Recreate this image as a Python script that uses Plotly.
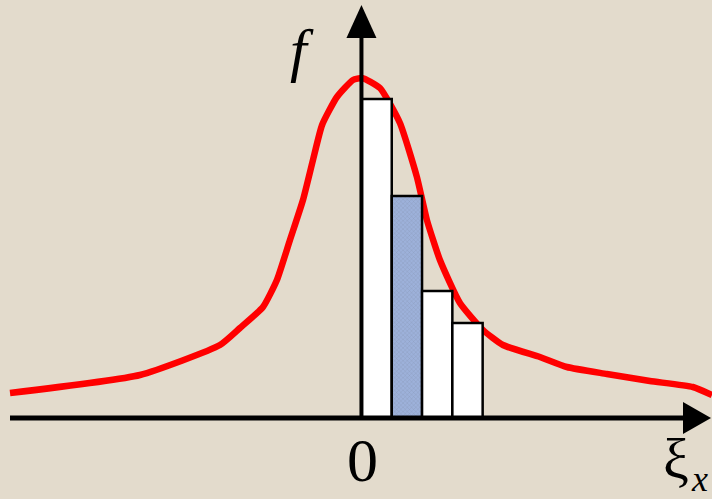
import plotly.graph_objects as go

# Distribution curve f(xi_x), sampled points
curve_x = [-11.60, -7.31, -4.67, -4.01, -3.25, -2.79, -2.36, -1.93, -1.60, -1.30,
           -0.81, -0.28, 0.02, 0.61, 1.27, 1.83, 2.16, 2.59, 3.25, 4.01,
           4.67, 5.89, 6.78, 8.10, 9.52, 10.94, 11.57]
curve_y = [0.25, 0.43, 0.73, 0.90, 1.11, 1.38, 1.78, 2.18, 2.58, 2.93,
           3.21, 3.38, 3.40, 3.30, 2.95, 2.41, 1.98, 1.58, 1.15, 0.88,
           0.73, 0.61, 0.51, 0.44, 0.37, 0.31, 0.23]

# Histogram bins to the right of zero
bin_centers = [0.5, 1.5, 2.5, 3.5]
bin_heights = [3.19, 2.22, 1.27, 0.95]
bin_colors = ["#ffffff", "#9db1da", "#ffffff", "#ffffff"]
bin_patterns = ["", "x", "", ""]

x_range = [-11.93, 11.57]
y_range = [-0.81, 4.18]

bg = "#e3dbcc"

fig = go.Figure()

fig.add_trace(go.Scatter(
    x=curve_x, y=curve_y, mode="lines",
    line=dict(color="#ff0000", width=6.5, shape="spline", smoothing=0.5),
    xaxis="x", yaxis="y", hoverinfo="skip",
))

fig.add_trace(go.Bar(
    x=bin_centers, y=bin_heights, width=1.0,
    marker=dict(
        color=bin_colors,
        line=dict(color="#000000", width=2.5),
        pattern=dict(shape=bin_patterns, fgcolor="#93a7d2", size=3, solidity=0.1),
    ),
    xaxis="x2", yaxis="y2", hoverinfo="skip",
))

# Axes with arrowheads
px_x = (x_range[1] - x_range[0]) / 712.0   # data units per pixel (x)
px_y = (y_range[1] - y_range[0]) / 499.0   # data units per pixel (y)

shapes = [
    dict(type="line", x0=x_range[0] + 10 * px_x, x1=x_range[1] - 20 * px_x, y0=0, y1=0,
         line=dict(color="#000000", width=5), layer="above"),
    dict(type="line", x0=0, x1=0, y0=0, y1=y_range[1] - 30 * px_y,
         line=dict(color="#000000", width=4), layer="above"),
    dict(type="path",
         path=(f"M {x_range[1] - 1 * px_x} 0 "
               f"L {x_range[1] - 29 * px_x} {16 * px_y} "
               f"L {x_range[1] - 29 * px_x} {-16 * px_y} Z"),
         fillcolor="#000000", line=dict(width=0), layer="above"),
    dict(type="path",
         path=(f"M 0 {y_range[1] - 5 * px_y} "
               f"L {-15 * px_x} {y_range[1] - 38 * px_y} "
               f"L {15 * px_x} {y_range[1] - 38 * px_y} Z"),
         fillcolor="#000000", line=dict(width=0), layer="above"),
]

serif = "Liberation Serif, Times New Roman, serif"
annotations = [
    dict(text="<i>f</i>", x=302, y=499 - 50, font=dict(family=serif, size=60, color="#000000")),
    dict(text="0", x=362, y=499 - 460, font=dict(family=serif, size=62, color="#000000")),
    dict(text="ξ", x=676, y=499 - 458, font=dict(family=serif, size=58, color="#000000")),
    dict(text="<i>x</i>", x=699, y=499 - 479, font=dict(family=serif, size=36, color="#000000")),
]
for a in annotations:
    a.update(xref="paper", yref="paper", showarrow=False,
             xanchor="center", yanchor="middle",
             x=a["x"] / 712.0, y=a["y"] / 499.0)

axis_common = dict(visible=False, showgrid=False, zeroline=False, fixedrange=True)
fig.update_layout(
    width=712, height=499,
    margin=dict(l=0, r=0, t=0, b=0),
    paper_bgcolor=bg, plot_bgcolor=bg,
    showlegend=False,
    xaxis=dict(range=x_range, domain=[0, 1], **axis_common),
    yaxis=dict(range=y_range, domain=[0, 1], **axis_common),
    xaxis2=dict(range=x_range, overlaying="x", **axis_common),
    yaxis2=dict(range=y_range, overlaying="y", **axis_common),
    shapes=shapes,
    annotations=annotations,
)

fig.write_html("out.html")
